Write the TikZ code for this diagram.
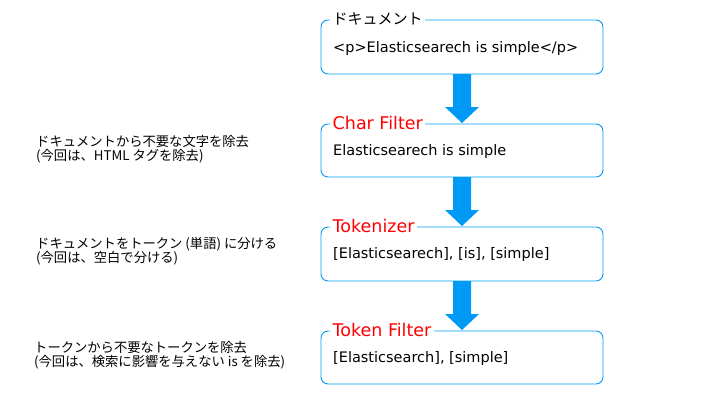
\documentclass[tikz,border=0pt]{standalone}
\usepackage{fontspec}
\setmainfont{DejaVu Sans}
\newfontfamily\jp{Noto Sans CJK JP}
\definecolor{flowblue}{RGB}{0,153,245}
\definecolor{titlered}{RGB}{255,0,0}
\begin{document}
\begin{tikzpicture}[x=1pt,y=-1pt,
  stagebox/.style={draw=flowblue,line width=0.9pt,rounded corners=7pt,fill=white},
  boxtext/.style={anchor=west,inner sep=0pt,font=\fontsize{14.5}{17}\selectfont},
  titletext/.style={anchor=west,fill=white,inner sep=2.5pt,text=titlered,font=\fontsize{17.5}{20}\selectfont},
  note/.style={anchor=west,align=left,inner sep=0pt,font=\jp\fontsize{13.3}{14.5}\selectfont},
  flowarrow/.style={fill=flowblue,draw=none}]
\useasboundingbox (0,0) rectangle (720,405);
\fill[white] (0,0) rectangle (720,405);
% boxes
\draw[stagebox] (321,20) rectangle (603,74);
\draw[stagebox] (321,124) rectangle (603,177);
\draw[stagebox] (321,227) rectangle (603,281);
\draw[stagebox] (321,331) rectangle (603,384);
% arrows
\foreach \s/\t in {74/124,177/227,281/331}{
  \fill[flowarrow] (453,\s) -- (471,\s) -- (471,\t-17) -- (479,\t-17) -- (462,\t-1) -- (445,\t-17) -- (453,\t-17) -- cycle;
}
% titles
\node[titletext,text=black,font=\jp\fontsize{15}{18}\selectfont] (t1) at (330,19) {ドキュメント};
\node[titletext] (t2) at (330,123) {Char Filter};
\node[titletext] (t3) at (330,226) {Tokenizer};
\node[titletext] (t4) at (330,330) {Token Filter};
% contents
\node[boxtext] (c1) at (333,48) {<p>Elasticsearech is simple</p>};
\node[boxtext] (c2) at (333,151) {Elasticsearech is simple};
\node[boxtext] (c3) at (333,254) {[Elasticsearech], [is], [simple]};
\node[boxtext] (c4) at (333,358) {[Elasticsearch], [simple]};
% notes
\node[note] (n1) at (36,149) {ドキュメントから不要な文字を除去\\(今回は、HTML タグを除去)};
\node[note] (n2) at (36,251) {ドキュメントをトークン (単語) に分ける\\(今回は、空白で分ける)};
\node[note] (n3) at (34,355) {トークンから不要なトークンを除去\\(今回は、検索に影響を与えない is を除去)};
\end{tikzpicture}
\end{document}
